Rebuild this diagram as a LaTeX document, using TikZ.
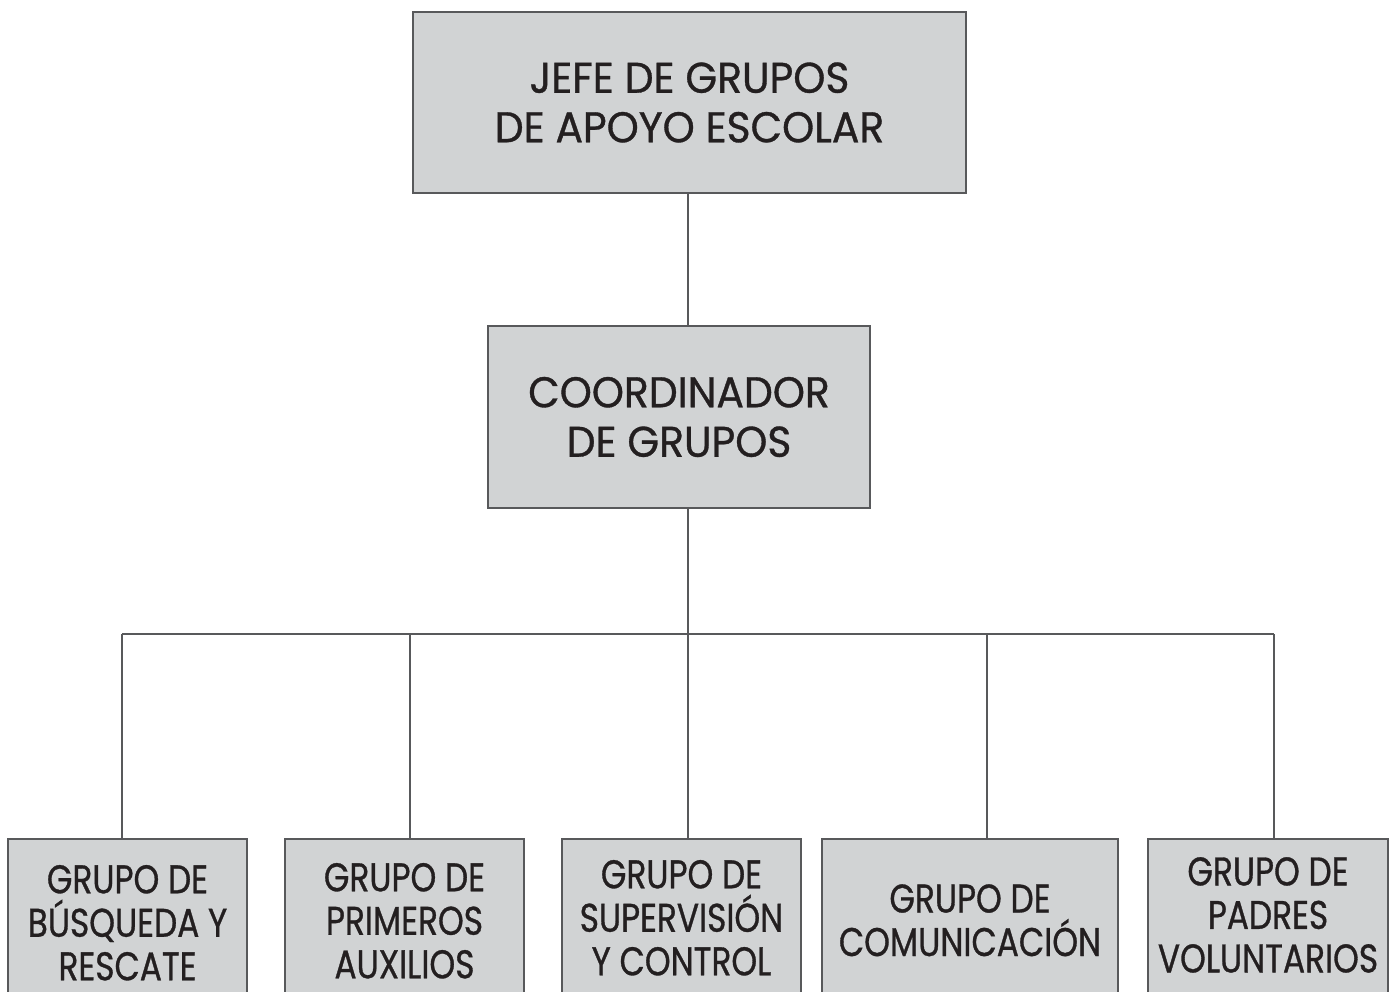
\documentclass[tikz,border=0pt]{standalone}
\usepackage{fontspec}
\setmainfont[FakeStretch=0.95,FakeBold=0.8]{Poppins}
\newfontfamily\groupfont[FakeStretch=0.82,FakeBold=0.8]{Poppins}
\usepackage{tikz}
\usetikzlibrary{positioning}
\definecolor{boxgray}{HTML}{D1D3D4}
\definecolor{linegray}{HTML}{58595B}
\definecolor{textdark}{HTML}{231F20}

\begin{document}
\begin{tikzpicture}[x=1pt,y=-1pt,
        BoxStyle/.style = { rectangle, draw = linegray, line width = 1.6pt,
          fill = boxgray, text = textdark, align = center, inner sep = 0pt },
        HeadStyle/.style = { BoxStyle,
          font = \fontsize{43}{49.5}\selectfont },
        GroupStyle/.style = { BoxStyle, anchor = north, minimum width = 239pt,
          font = \groupfont\fontsize{40}{43.5}\selectfont },
        LinkStyle/.style = { draw = linegray, line width = 1.3pt }
      ]
      \useasboundingbox (0,0) rectangle (1392,992);
      \clip (0,0) rectangle (1392,992);
      % heads
      \node[HeadStyle, minimum width = 553pt, minimum height = 181pt]
        (Jefe) at (689.5,102.5) {JEFE DE GRUPOS\\DE APOYO ESCOLAR};
      \node[HeadStyle, minimum width = 382pt, minimum height = 182pt]
        (Coord) at (679,417) {COORDINADOR\\DE GRUPOS};
      % groups
      \node[GroupStyle, minimum height = 168pt] (Busqueda) at (127.5,838)
        {GRUPO DE\\BÚSQUEDA Y\\RESCATE};
      \node[GroupStyle, minimum height = 164pt] (Auxilios) at (404.5,838)
        {GRUPO DE\\PRIMEROS\\AUXILIOS};
      \node[GroupStyle, minimum height = 158pt] (Supervision) at (681.5,838)
        {GRUPO DE\\SUPERVISIÓN\\Y CONTROL};
      \node[GroupStyle, minimum width = 296pt, minimum height = 163pt]
        (Comunicacion) at (970,838) {GRUPO DE\\COMUNICACIÓN};
      \node[GroupStyle, minimum width = 240pt, minimum height = 172pt,
        text depth = 20pt] (Padres) at (1268,838)
        {GRUPO DE\\PADRES\\VOLUNTARIOS};
      % links
      \coordinate (Bus) at (688,634);
      \draw[LinkStyle] (Jefe.south -| Bus) -- (Coord.north -| Bus);
      \draw[LinkStyle] (Coord.south -| Bus) -- (Bus);
      \foreach \x/\n in {122/Busqueda, 410/Auxilios, 688/Supervision,
          987/Comunicacion, 1274/Padres} {
        \coordinate (Drop\n) at (\x,634);
        \draw[LinkStyle] (Drop\n) -- (Drop\n |- \n.north);
      }
      \draw[LinkStyle] (DropBusqueda) -- (DropPadres);
    \end{tikzpicture}
\end{document}
